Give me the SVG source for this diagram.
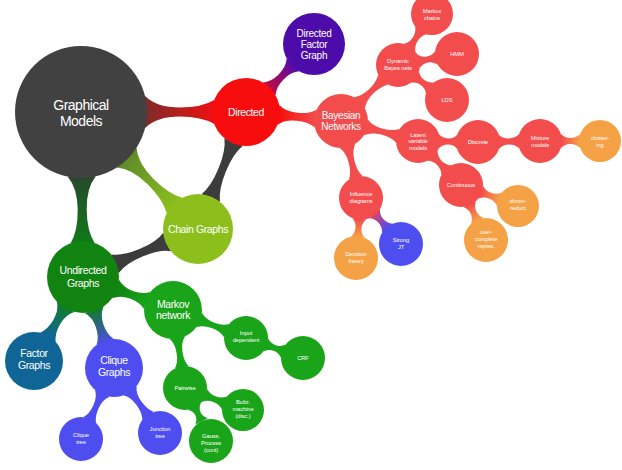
<svg xmlns="http://www.w3.org/2000/svg" width="622" height="470" viewBox="0 0 622 470">
<style>
text{font-family:"Liberation Sans",Arial,sans-serif;fill:#fff;text-anchor:middle}
.xl{font-size:14px;letter-spacing:-0.5px}
.l{font-size:10.5px;letter-spacing:-0.4px}
.m{font-size:10px;letter-spacing:-0.3px}
.s{font-size:5.8px;letter-spacing:-0.1px}
.red{fill:#f34c4c}.org{fill:#f5a145}.blu{fill:#4e4ef0}.grn{fill:#19a419}
</style>
<defs>
<linearGradient id="gRed"><stop offset="0" stop-color="#7d2b2b"/><stop offset="1" stop-color="#f01010"/></linearGradient>
<linearGradient id="gOlive"><stop offset="0" stop-color="#5f8a2a"/><stop offset="1" stop-color="#8cbf1c"/></linearGradient>
<linearGradient id="gDkGreen"><stop offset="0" stop-color="#26482c"/><stop offset="1" stop-color="#107a18"/></linearGradient>
<linearGradient id="gPurp"><stop offset="0" stop-color="#c00c40"/><stop offset="1" stop-color="#5a0ca8"/></linearGradient>
<linearGradient id="gDirBN"><stop offset="0" stop-color="#f70d0d"/><stop offset="1" stop-color="#f34c4c"/></linearGradient>
<linearGradient id="gOrg"><stop offset="0" stop-color="#f34c4c"/><stop offset="1" stop-color="#f5a145"/></linearGradient>
<linearGradient id="gRB"><stop offset="0" stop-color="#d04870"/><stop offset="1" stop-color="#5a48e8"/></linearGradient>
<linearGradient id="gTeal"><stop offset="0" stop-color="#127a30"/><stop offset="1" stop-color="#0f6596"/></linearGradient>
<linearGradient id="gTB"><stop offset="0" stop-color="#127a30"/><stop offset="1" stop-color="#4a50d8"/></linearGradient>
<linearGradient id="gGG"><stop offset="0" stop-color="#118311"/><stop offset="1" stop-color="#19a419"/></linearGradient>
</defs>
<rect width="622" height="470" fill="#fff"/>
<g id="connectors">
<path transform="translate(81,112)" fill="url(#gRed)" d="M64,-16 Q76,-4.5 98.5,-4.5 Q121,-4.5 133.2,-12 L133.2,12 Q121,4.5 98.5,4.5 Q76,4.5 64,16Z"/>
<path transform="translate(81,112) rotate(45)" fill="url(#gOlive)" d="M64.5,-14 Q76,-4 98.3,-4 Q120.5,-4 132.3,-11 L132.3,11 Q120.5,4 98.3,4 Q76,4 64.5,14Z"/>
<path transform="translate(81,112) rotate(89.3)" fill="url(#gDkGreen)" d="M64.5,-14 Q76,-4.5 97.5,-4.5 Q119,-4.5 131.1,-12 L131.1,12 Q119,4.5 97.5,4.5 Q76,4.5 64.5,14Z"/>
<path transform="translate(246,112) rotate(112.3)" fill="#3c3c3c" d="M32.5,-10 Q43,-4 62.8,-4 Q82.5,-4 93,-10 L93,10 Q82.5,4 62.8,4 Q43,4 32.5,10Z"/>
<path transform="translate(198,229) rotate(157.35)" fill="#3c3c3c" d="M33.5,-10 Q43,-4 61.8,-4 Q80.6,-4 90,-10 L90,10 Q80.6,4 61.8,4 Q43,4 33.5,10Z"/>
<path transform="translate(246,112) rotate(-45)" fill="url(#gPurp)" d="M32.8,-9 Q39,-3.5 49.6,-3.5 Q60.2,-3.5 66.5,-9 L66.5,9 Q60.2,3.5 49.6,3.5 Q39,3.5 32.8,9Z"/>
<path transform="translate(246,112) rotate(5.41)" fill="url(#gDirBN)" d="M32.5,-10 Q39,-4 51.2,-4 Q63.4,-4 69.9,-9 L69.9,9 Q63.4,4 51.2,4 Q39,4 32.5,10Z"/>
<path transform="translate(341,121) rotate(-44.5)" class="red" d="M25.8,-8 Q32,-3 42.5,-3 Q52.9,-3 59,-7 L59,7 Q52.9,3 42.5,3 Q32,3 25.8,8Z"/>
<path transform="translate(341,121) rotate(14.56)" class="red" d="M25.8,-8 Q32,-3 42.3,-3 Q52.6,-3 58.7,-7 L58.7,7 Q52.6,3 42.3,3 Q32,3 25.8,8Z"/>
<path transform="translate(341,121) rotate(75.44)" class="red" d="M25.8,-8 Q32,-3 42.3,-3 Q52.6,-3 58.7,-7 L58.7,7 Q52.6,3 42.3,3 Q32,3 25.8,8Z"/>
<path transform="translate(398,65) rotate(-56.31)" class="red" d="M20.9,-7 Q25,-3 31.2,-3 Q37.3,-3 41.5,-7 L41.5,7 Q37.3,3 31.2,3 Q25,3 20.9,7Z"/>
<path transform="translate(398,65) rotate(-10.56)" class="red" d="M20.9,-7 Q24.5,-3 30,-3 Q35.5,-3 39.1,-7 L39.1,7 Q35.5,3 30,3 Q24.5,3 20.9,7Z"/>
<path transform="translate(398,65) rotate(35.54)" class="red" d="M20.9,-7 Q24.5,-3 30.1,-3 Q35.7,-3 39.3,-7 L39.3,7 Q35.7,3 30.1,3 Q24.5,3 20.9,7Z"/>
<path transform="translate(418,141) rotate(0.95)" class="red" d="M20.9,-7 Q24.5,-3 30,-3 Q35.5,-3 39.1,-7 L39.1,7 Q35.5,3 30,3 Q24.5,3 20.9,7Z"/>
<path transform="translate(478,142) rotate(-0.92)" class="red" d="M20.9,-7 Q25,-3 31,-3 Q37,-3 41.1,-7 L41.1,7 Q37,3 31,3 Q25,3 20.9,7Z"/>
<path transform="translate(540,141)" fill="url(#gOrg)" d="M20.9,-7 Q25,-3 30.5,-3 Q36,-3 40.2,-7 L40.2,7 Q36,3 30.5,3 Q25,3 20.9,7Z"/>
<path transform="translate(418,141) rotate(45.66)" class="red" d="M20.9,-7 Q25,-3 30.8,-3 Q36.5,-3 40.6,-7 L40.6,7 Q36.5,3 30.8,3 Q25,3 20.9,7Z"/>
<path transform="translate(461,185) rotate(20.23)" fill="url(#gOrg)" d="M20.9,-7 Q25,-3 30.9,-3 Q36.7,-3 40.9,-7 L40.9,7 Q36.7,3 30.9,3 Q25,3 20.9,7Z"/>
<path transform="translate(461,185) rotate(65.56)" fill="url(#gOrg)" d="M20.9,-7 Q25,-3 30.2,-3 Q35.4,-3 39.5,-7 L39.5,7 Q35.4,3 30.2,3 Q25,3 20.9,7Z"/>
<path transform="translate(361,198) rotate(94.76)" fill="url(#gOrg)" d="M20.9,-7 Q24.5,-3 30.1,-3 Q35.7,-3 39.3,-7 L39.3,7 Q35.7,3 30.1,3 Q24.5,3 20.9,7Z"/>
<path transform="translate(361,198) rotate(48.99)" fill="url(#gRB)" d="M20.9,-7 Q25,-3 30.5,-3 Q36,-3 40.1,-7 L40.1,7 Q36,3 30.5,3 Q25,3 20.9,7Z"/>
<path transform="translate(83,277) rotate(20.14)" fill="url(#gGG)" d="M34.6,-10 Q41,-4 51.5,-4 Q61.9,-4 68.3,-9 L68.3,9 Q61.9,4 51.5,4 Q41,4 34.6,10Z"/>
<path transform="translate(83,277) rotate(120.26)" fill="url(#gTeal)" d="M34.6,-10 Q41,-4 52.1,-4 Q63.2,-4 69.6,-9 L69.6,9 Q63.2,4 52.1,4 Q41,4 34.6,10Z"/>
<path transform="translate(83,277) rotate(71.19)" fill="url(#gTB)" d="M34.6,-10 Q41,-4 51.6,-4 Q62.1,-4 68.5,-9 L68.5,9 Q62.1,4 51.6,4 Q41,4 34.6,10Z"/>
<path transform="translate(173,310) rotate(20.98)" class="grn" d="M27.9,-8 Q33,-3 42.6,-3 Q52.2,-3 57.3,-7 L57.3,7 Q52.2,3 42.6,3 Q33,3 27.9,8Z"/>
<path transform="translate(246,338) rotate(19.33)" class="grn" d="M20.9,-7 Q25,-3 30.2,-3 Q35.4,-3 39.5,-7 L39.5,7 Q35.4,3 30.2,3 Q25,3 20.9,7Z"/>
<path transform="translate(173,310) rotate(81.25)" class="grn" d="M27.9,-8 Q33,-3 43,-3 Q52.9,-3 58,-7 L58,7 Q52.9,3 43,3 Q33,3 27.9,8Z"/>
<path transform="translate(185,388) rotate(20.77)" class="grn" d="M20.9,-7 Q25,-3 31.5,-3 Q38,-3 42.2,-7 L42.2,7 Q38,3 31.5,3 Q25,3 20.9,7Z"/>
<path transform="translate(185,388) rotate(63.43)" class="grn" d="M20.9,-7 Q24.5,-3 29,-3 Q33.6,-3 37.2,-7 L37.2,7 Q33.6,3 29,3 Q24.5,3 20.9,7Z"/>
<path transform="translate(114,368) rotate(114.93)" class="blu" d="M27.9,-8 Q33,-3 42.7,-3 Q52.3,-3 57.4,-7 L57.4,7 Q52.3,3 42.7,3 Q33,3 27.9,8Z"/>
<path transform="translate(114,368) rotate(54.71)" class="blu" d="M27.9,-8 Q33,-3 43.3,-3 Q53.6,-3 58.7,-7 L58.7,7 Q53.6,3 43.3,3 Q33,3 27.9,8Z"/>
</g>
<g id="graphical-models"><circle cx="81" cy="112" r="66" fill="#414141"/><text class="xl" x="81" y="110">Graphical</text><text class="xl" x="81" y="126">Models</text></g>
<g id="directed"><circle cx="246" cy="112" r="34" fill="#f70d0d"/><text class="l" x="246" y="116">Directed</text></g>
<g id="directed-factor-graph"><circle cx="314" cy="44" r="31" fill="#4d0caa"/><text class="m" x="314" y="37">Directed</text><text class="m" x="314" y="48">Factor</text><text class="m" x="314" y="58.5">Graph</text></g>
<g id="bayesian-networks"><circle cx="341" cy="121" r="27" class="red"/><text class="m" x="341" y="119">Bayesian</text><text class="m" x="341" y="130">Networks</text></g>
<g id="dynamic-bayes-nets"><circle cx="398" cy="65" r="22" class="red"/><text class="s" x="398" y="63">Dynamic</text><text class="s" x="398" y="70">Bayes nets</text></g>
<g id="markov-chains"><circle cx="432" cy="14" r="21" class="red"/><text class="s" x="432" y="13">Markov</text><text class="s" x="432" y="20">chains</text></g>
<g id="hmm"><circle cx="457" cy="54" r="22" class="red"/><text class="s" x="457" y="56">HMM</text></g>
<g id="lds"><circle cx="447" cy="100" r="22" class="red"/><text class="s" x="447" y="102">LDS</text></g>
<g id="latent-variable-models"><circle cx="418" cy="141" r="22" class="red"/><text class="s" x="418" y="136.5">Latent</text><text class="s" x="418" y="143.3">variable</text><text class="s" x="418" y="150">models</text></g>
<g id="discrete"><circle cx="478" cy="142" r="22" class="red"/><text class="s" x="478" y="144">Discrete</text></g>
<g id="mixture-models"><circle cx="540" cy="141" r="22" class="red"/><text class="s" x="540" y="140">Mixture</text><text class="s" x="540" y="147">models</text></g>
<g id="clustering"><circle cx="600" cy="141" r="21" class="org"/><text class="s" x="600" y="140">cluster-</text><text class="s" x="600" y="147">ing</text></g>
<g id="continuous"><circle cx="461" cy="185" r="22" class="red"/><text class="s" x="461" y="187">Continuous</text></g>
<g id="dimen-reduct"><circle cx="518" cy="206" r="21" class="org"/><text class="s" x="518" y="203">dimen-</text><text class="s" x="518" y="210">reduct</text></g>
<g id="over-complete-repres"><circle cx="486" cy="240" r="22" class="org"/><text class="s" x="486" y="234">over-</text><text class="s" x="486" y="241">complete</text><text class="s" x="486" y="248">repres.</text></g>
<g id="influence-diagrams"><circle cx="361" cy="198" r="22" class="red"/><text class="s" x="361" y="196">Influence</text><text class="s" x="361" y="203">diagrams</text></g>
<g id="decision-theory"><circle cx="356" cy="258" r="22" class="org"/><text class="s" x="356" y="256">Decision</text><text class="s" x="356" y="263">theory</text></g>
<g id="strong-jt"><circle cx="401" cy="244" r="22" class="blu"/><text class="s" x="401" y="242">Strong</text><text class="s" x="401" y="249">JT</text></g>
<g id="chain-graphs"><circle cx="198" cy="229" r="35" fill="#8cbf1c"/><text class="l" x="198" y="233">Chain Graphs</text></g>
<g id="undirected-graphs"><circle cx="83" cy="277" r="36" fill="#118311"/><text class="l" x="83" y="274">Undirected</text><text class="l" x="83" y="287">Graphs</text></g>
<g id="markov-network"><circle cx="173" cy="310" r="29" class="grn"/><text class="l" x="173" y="308">Markov</text><text class="l" x="173" y="319">network</text></g>
<g id="input-dependent"><circle cx="246" cy="338" r="22" class="grn"/><text class="s" x="246" y="335">Input</text><text class="s" x="246" y="342">dependent</text></g>
<g id="crf"><circle cx="303" cy="358" r="22" class="grn"/><text class="s" x="303" y="360">CRF</text></g>
<g id="pairwise"><circle cx="185" cy="388" r="22" class="grn"/><text class="s" x="185" y="390">Pairwise</text></g>
<g id="boltz-machine"><circle cx="243" cy="410" r="21" class="grn"/><text class="s" x="243" y="404">Boltz.</text><text class="s" x="243" y="411">machine</text><text class="s" x="243" y="418">(disc.)</text></g>
<g id="gauss-process"><circle cx="211" cy="441" r="22" class="grn"/><text class="s" x="211" y="438">Gauss.</text><text class="s" x="211" y="445">Process</text><text class="s" x="211" y="452">(cont)</text></g>
<g id="factor-graphs"><circle cx="34" cy="361" r="29" fill="#0f6596"/><text class="l" x="34" y="357">Factor</text><text class="l" x="34" y="369">Graphs</text></g>
<g id="clique-graphs"><circle cx="114" cy="368" r="29" class="blu"/><text class="l" x="114" y="364">Clique</text><text class="l" x="114" y="376">Graphs</text></g>
<g id="clique-tree"><circle cx="81" cy="439" r="22" class="blu"/><text class="s" x="81" y="437">Clique</text><text class="s" x="81" y="444">tree</text></g>
<g id="junction-tree"><circle cx="160" cy="433" r="22" class="blu"/><text class="s" x="160" y="431">Junction</text><text class="s" x="160" y="438">tree</text></g>
</svg>
